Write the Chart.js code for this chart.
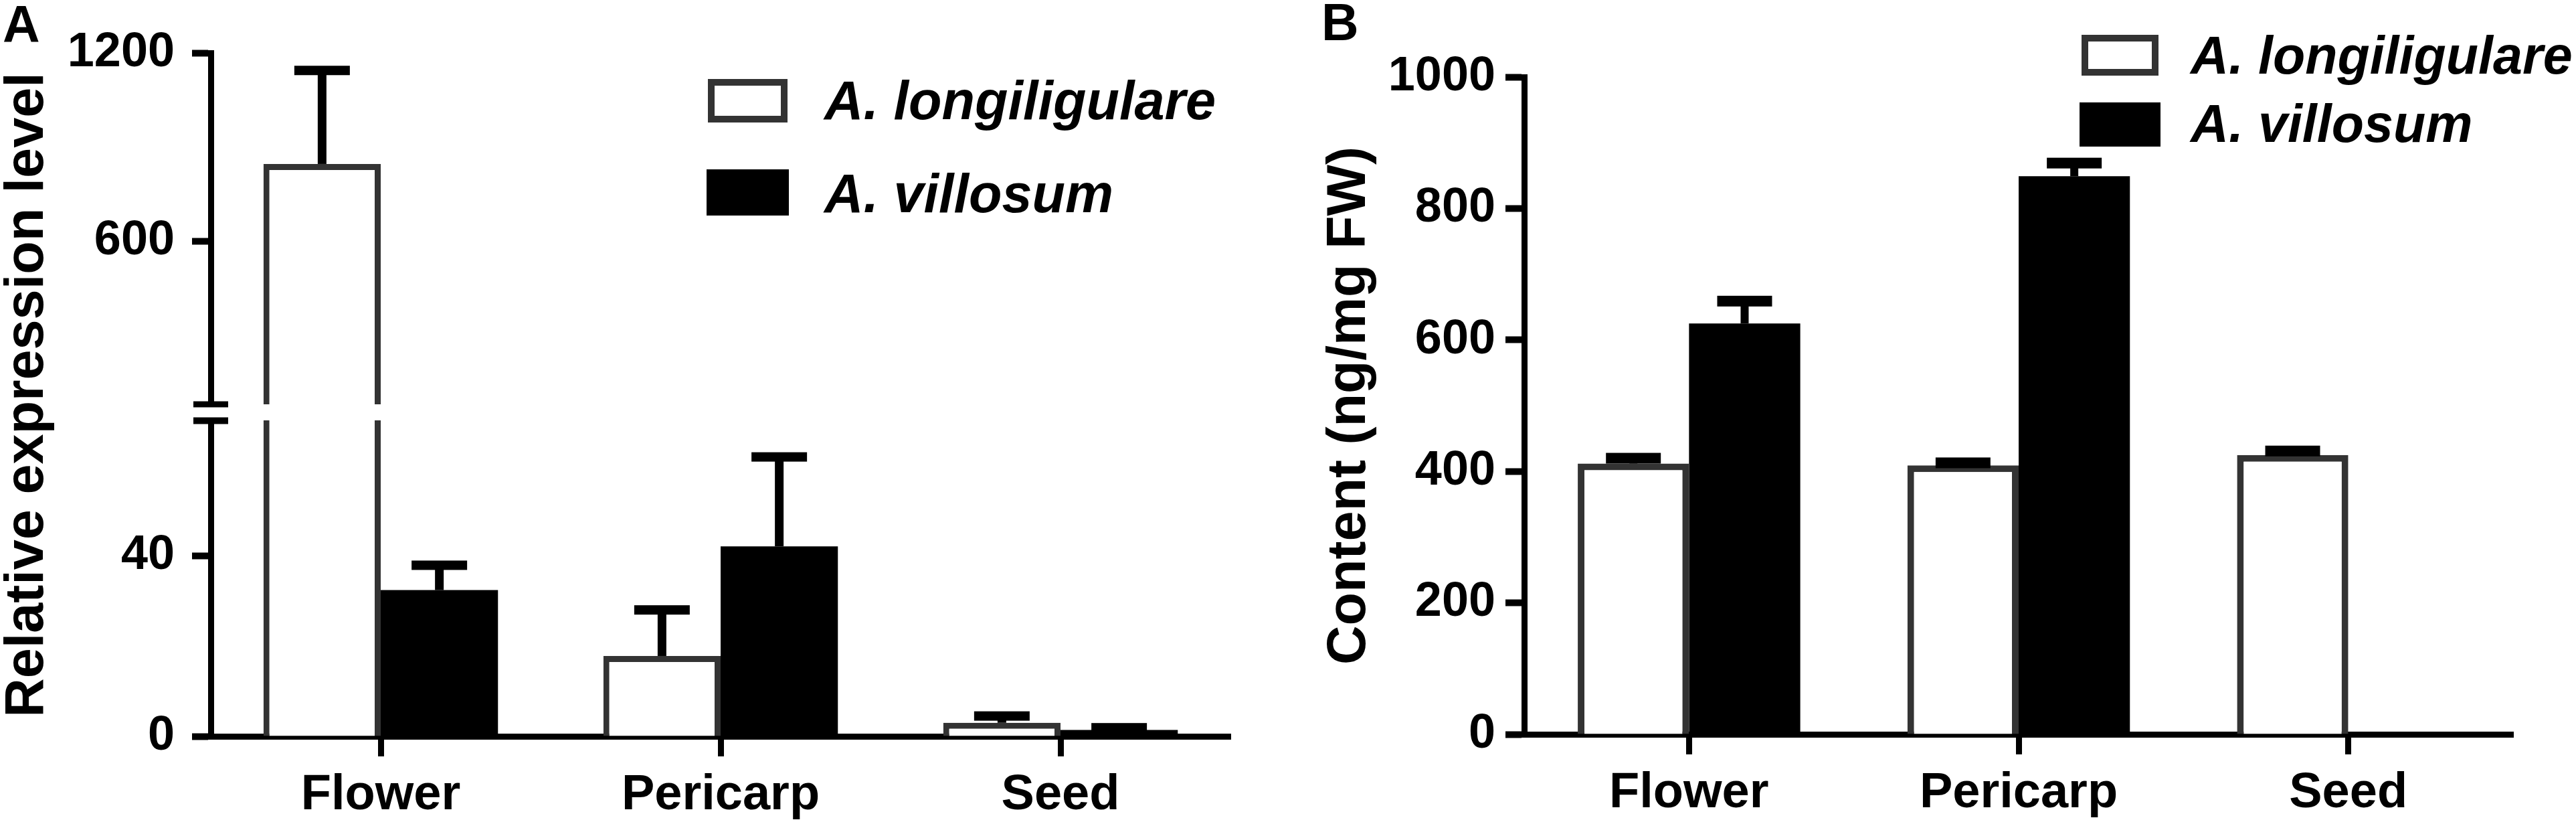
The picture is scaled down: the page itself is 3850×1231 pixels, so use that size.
<!DOCTYPE html>
<html>
<head>
<meta charset="utf-8">
<title>Expression and content</title>
<script src="https://cdn.jsdelivr.net/npm/chart.js@4.4.1/dist/chart.umd.min.js"></script>
<style>
  html, body { margin: 0; padding: 0; background: #fff; }
  .panel { position: absolute; top: 0; width: 1925px; height: 1231px; }
  #panelA { left: 0; }
  #panelB { left: 1925px; }
</style>
</head>
<body>
<div class="panel" id="panelA"><canvas id="expression-chart"></canvas></div>
<div class="panel" id="panelB"><canvas id="content-chart"></canvas></div>
<script>
var tissues = ['Flower', 'Pericarp', 'Seed'];
var seriesNames = ['A. longiligulare', 'A. villosum'];

// A: relative expression level, broken y axis
var exprLongi = [846, 17.8, 3.0];
var exprLongiErr = [298, 10.2, 1.5];
var exprVill = [32.4, 42.1, 1.4];
var exprVillErr = [5.5, 19.8, 0.5];
var exprLowTicks = [0, 40];
var exprHighTicks = [600, 1200];
var exprLowRange = [0, 70];
var exprHighRange = [80, 1200];

// B: content (ng/mg FW)
var contLongi = [412, 409, 425];
var contLongiErr = [8, 4, 6];
var contVill = [625, 849, 0];
var contVillErr = [34, 20, 0];
var contTicks = [0, 200, 400, 600, 800, 1000];

var FONT = "'Liberation Sans', Arial, Helvetica, sans-serif";
var EDGE = '#333333';

Chart.defaults.font.family = FONT;
Chart.defaults.font.weight = 'bold';
Chart.defaults.color = '#000';

function fixedTicks(values) {
    return function (scale) {
        scale.ticks = values.map(function (v) { return { value: v }; });
    };
}

function yAxis(opts) {
    var axis = {
        type: 'linear',
        position: 'left',
        min: opts.min,
        max: opts.max,
        afterBuildTicks: fixedTicks(opts.ticks),
        grid: { drawOnChartArea: false, tickLength: 28, tickWidth: 10, tickColor: '#000' },
        border: { display: true, width: 9, color: '#000' },
        ticks: {
            padding: opts.padding,
            color: '#000',
            font: { size: 72, weight: 'bold' },
            callback: function (v) { return String(v); }
        },
        afterFit: function (s) { s.width = opts.width; }
    };
    if (opts.stack) {
        axis.stack = opts.stack;
        axis.stackWeight = opts.stackWeight;
        axis.weight = opts.weight;
    }
    return axis;
}

function xAxis(height) {
    return {
        type: 'category',
        offset: true,
        grid: { display: true, drawOnChartArea: false, offset: false, tickLength: 30, tickWidth: 9, tickColor: '#000' },
        border: { display: true, width: 9, color: '#000' },
        ticks: { padding: 14, color: '#000', font: { size: 74, weight: 'bold' } },
        afterFit: function (s) { s.height = height; }
    };
}

// extra drawing: panel letter, rotated y title, legend, error bars
var decorPlugin = {
    id: 'decor',
    afterDatasetsDraw: function (chart, args, o) {
        var ctx = chart.ctx;
        ctx.save();
        ctx.fillStyle = '#000';

        // error bars
        o.errors.forEach(function (s) {
            var meta = chart.getDatasetMeta(s.datasetIndex);
            meta.data.forEach(function (bar, i) {
                if (!s.err[i]) return;
                var y0 = o.pixel(chart, s.values[i]);
                var y1 = o.pixel(chart, s.values[i] + s.err[i]);
                ctx.fillRect(bar.x - o.stem / 2, y1, o.stem, y0 - y1);
                ctx.fillRect(bar.x - o.capW / 2, y1 - o.capH / 2, o.capW, o.capH);
            });
        });

        // axis break marks
        if (o.breakMarks) {
            var left = chart.chartArea.left;
            ctx.fillRect(left - 26, chart.scales.yTop.bottom - 4.5, 52, 9);
            ctx.fillRect(left - 26, chart.scales.yBot.top - 4.5, 52, 10);
        }

        // panel letter
        ctx.textAlign = 'left';
        ctx.textBaseline = 'alphabetic';
        ctx.font = 'bold 77px ' + FONT;
        ctx.fillText(o.letter.text, o.letter.x, o.letter.y);

        // y title
        ctx.save();
        ctx.translate(o.title.x, o.title.y);
        ctx.rotate(-Math.PI / 2);
        ctx.textAlign = 'center';
        ctx.font = 'bold 81px ' + FONT;
        ctx.fillText(o.title.text, 0, 0);
        ctx.restore();

        // legend
        var lg = o.legend;
        ctx.font = 'italic bold ' + lg.size + 'px ' + FONT;
        ctx.textAlign = 'left';
        lg.rows.forEach(function (r) {
            var ds = chart.data.datasets[r.datasetIndex];
            var b = r.box;
            var framed = ds.backgroundColor !== ds.borderColor;
            ctx.fillStyle = framed ? ds.borderColor : ds.backgroundColor;
            ctx.fillRect(b[0], b[1], b[2], b[3]);
            if (framed) {
                ctx.fillStyle = ds.backgroundColor;
                ctx.fillRect(b[0] + 10, b[1] + 10, b[2] - 20, b[3] - 20);
            }
            ctx.fillStyle = '#000';
            ctx.fillText(ds.label, lg.textX, r.baseline);
        });
        ctx.restore();
    }
};

// ---------- panel A ----------
function exprPixel(chart, v) {
    if (v > exprHighRange[0]) return chart.scales.yTop.getPixelForValue(v);
    return chart.scales.yBot.getPixelForValue(Math.min(v, exprLowRange[1]));
}

// open top on the lower segment where the bar runs on past the break
function lowBorder(values, w) {
    return function (c) {
        return values[c.dataIndex] > exprLowRange[1] ? { left: w, right: w, top: 0, bottom: 0 } : w;
    };
}

var exprCtx = document.getElementById('expression-chart');
var exprChart = new Chart(exprCtx, {
    type: 'bar',
    data: {
        labels: tissues,
        datasets: [{
            label: seriesNames[0],
            data: exprLongi.map(function (v) { return Math.min(v, exprLowRange[1]); }),
            yAxisID: 'yBot', stack: 'L',
            backgroundColor: '#ffffff', borderColor: EDGE,
            borderWidth: lowBorder(exprLongi, 9), borderSkipped: 'start'
        }, {
            label: seriesNames[0],
            data: exprLongi.map(function (v) { return v > exprHighRange[0] ? v : null; }),
            yAxisID: 'yTop', stack: 'L', base: exprHighRange[0],
            backgroundColor: '#ffffff', borderColor: EDGE,
            borderWidth: 9, borderSkipped: 'start'
        }, {
            label: seriesNames[1],
            data: exprVill.map(function (v) { return Math.min(v, exprLowRange[1]); }),
            yAxisID: 'yBot', stack: 'V',
            backgroundColor: '#000000', borderColor: '#000000', borderWidth: 0
        }, {
            label: seriesNames[1],
            data: exprVill.map(function (v) { return v > exprHighRange[0] ? v : null; }),
            yAxisID: 'yTop', stack: 'V', base: exprHighRange[0],
            backgroundColor: '#000000', borderColor: '#000000', borderWidth: 0
        }]
    },
    options: {
        responsive: true,
        maintainAspectRatio: false,
        devicePixelRatio: 1,
        animation: false,
        categoryPercentage: 0.69,
        barPercentage: 1.0,
        layout: { padding: { top: 79, right: 86, bottom: 0, left: 0 } },
        scales: {
            x: xAxis(131),
            yBot: yAxis({ min: exprLowRange[0], max: exprLowRange[1], ticks: exprLowTicks, padding: 26, width: 315,
                          stack: 'expr', stackWeight: 472, weight: 1 }),
            yGap: {
                type: 'linear', position: 'left', min: 0, max: 1,
                stack: 'expr', stackWeight: 24, weight: 2,
                grid: { display: false }, border: { display: false }, ticks: { display: false },
                afterFit: function (s) { s.width = 315; }
            },
            yTop: yAxis({ min: exprHighRange[0], max: exprHighRange[1], ticks: exprHighTicks, padding: 26, width: 315,
                          stack: 'expr', stackWeight: 525, weight: 3 })
        },
        plugins: {
            legend: { display: false },
            tooltip: { enabled: false },
            decor: {
                pixel: exprPixel,
                stem: 13, capW: 83, capH: 14,
                breakMarks: true,
                errors: [
                    { datasetIndex: 0, values: exprLongi, err: exprLongiErr },
                    { datasetIndex: 2, values: exprVill, err: exprVillErr }
                ],
                letter: { text: 'A', x: 4, y: 63 },
                title: { text: 'Relative expression level', x: 64, y: 590 },
                legend: {
                    size: 81, textX: 1232,
                    rows: [
                        { datasetIndex: 0, box: [1058, 118, 119, 65], baseline: 178 },
                        { datasetIndex: 2, box: [1056, 253, 123, 69], baseline: 317 }
                    ]
                }
            }
        }
    },
    plugins: [decorPlugin]
});

// ---------- panel B ----------
var contCtx = document.getElementById('content-chart');
var contChart = new Chart(contCtx, {
    type: 'bar',
    data: {
        labels: tissues,
        datasets: [{
            label: seriesNames[0],
            data: contLongi,
            backgroundColor: '#ffffff', borderColor: EDGE,
            borderWidth: 10, borderSkipped: 'start'
        }, {
            label: seriesNames[1],
            data: contVill,
            backgroundColor: '#000000', borderColor: '#000000', borderWidth: 0
        }]
    },
    options: {
        responsive: true,
        maintainAspectRatio: false,
        devicePixelRatio: 1,
        animation: false,
        categoryPercentage: 0.675,
        barPercentage: 1.0,
        layout: { padding: { top: 115, right: 94, bottom: 0, left: 0 } },
        scales: {
            x: xAxis(134),
            y: yAxis({ min: 0, max: 1000, ticks: contTicks, padding: 15, width: 353 })
        },
        plugins: {
            legend: { display: false },
            tooltip: { enabled: false },
            decor: {
                pixel: function (chart, v) { return chart.scales.y.getPixelForValue(v); },
                stem: 12, capW: 82, capH: 16,
                breakMarks: false,
                errors: [
                    { datasetIndex: 0, values: contLongi, err: contLongiErr },
                    { datasetIndex: 1, values: contVill, err: contVillErr }
                ],
                letter: { text: 'B', x: 50, y: 60 },
                title: { text: 'Content (ng/mg FW)', x: 115, y: 606 },
                legend: {
                    size: 79, textX: 1349,
                    rows: [
                        { datasetIndex: 0, box: [1186, 52, 115, 61], baseline: 110 },
                        { datasetIndex: 1, box: [1183, 153, 121, 66], baseline: 212 }
                    ]
                }
            }
        }
    },
    plugins: [decorPlugin]
});
</script>
</body>
</html>
